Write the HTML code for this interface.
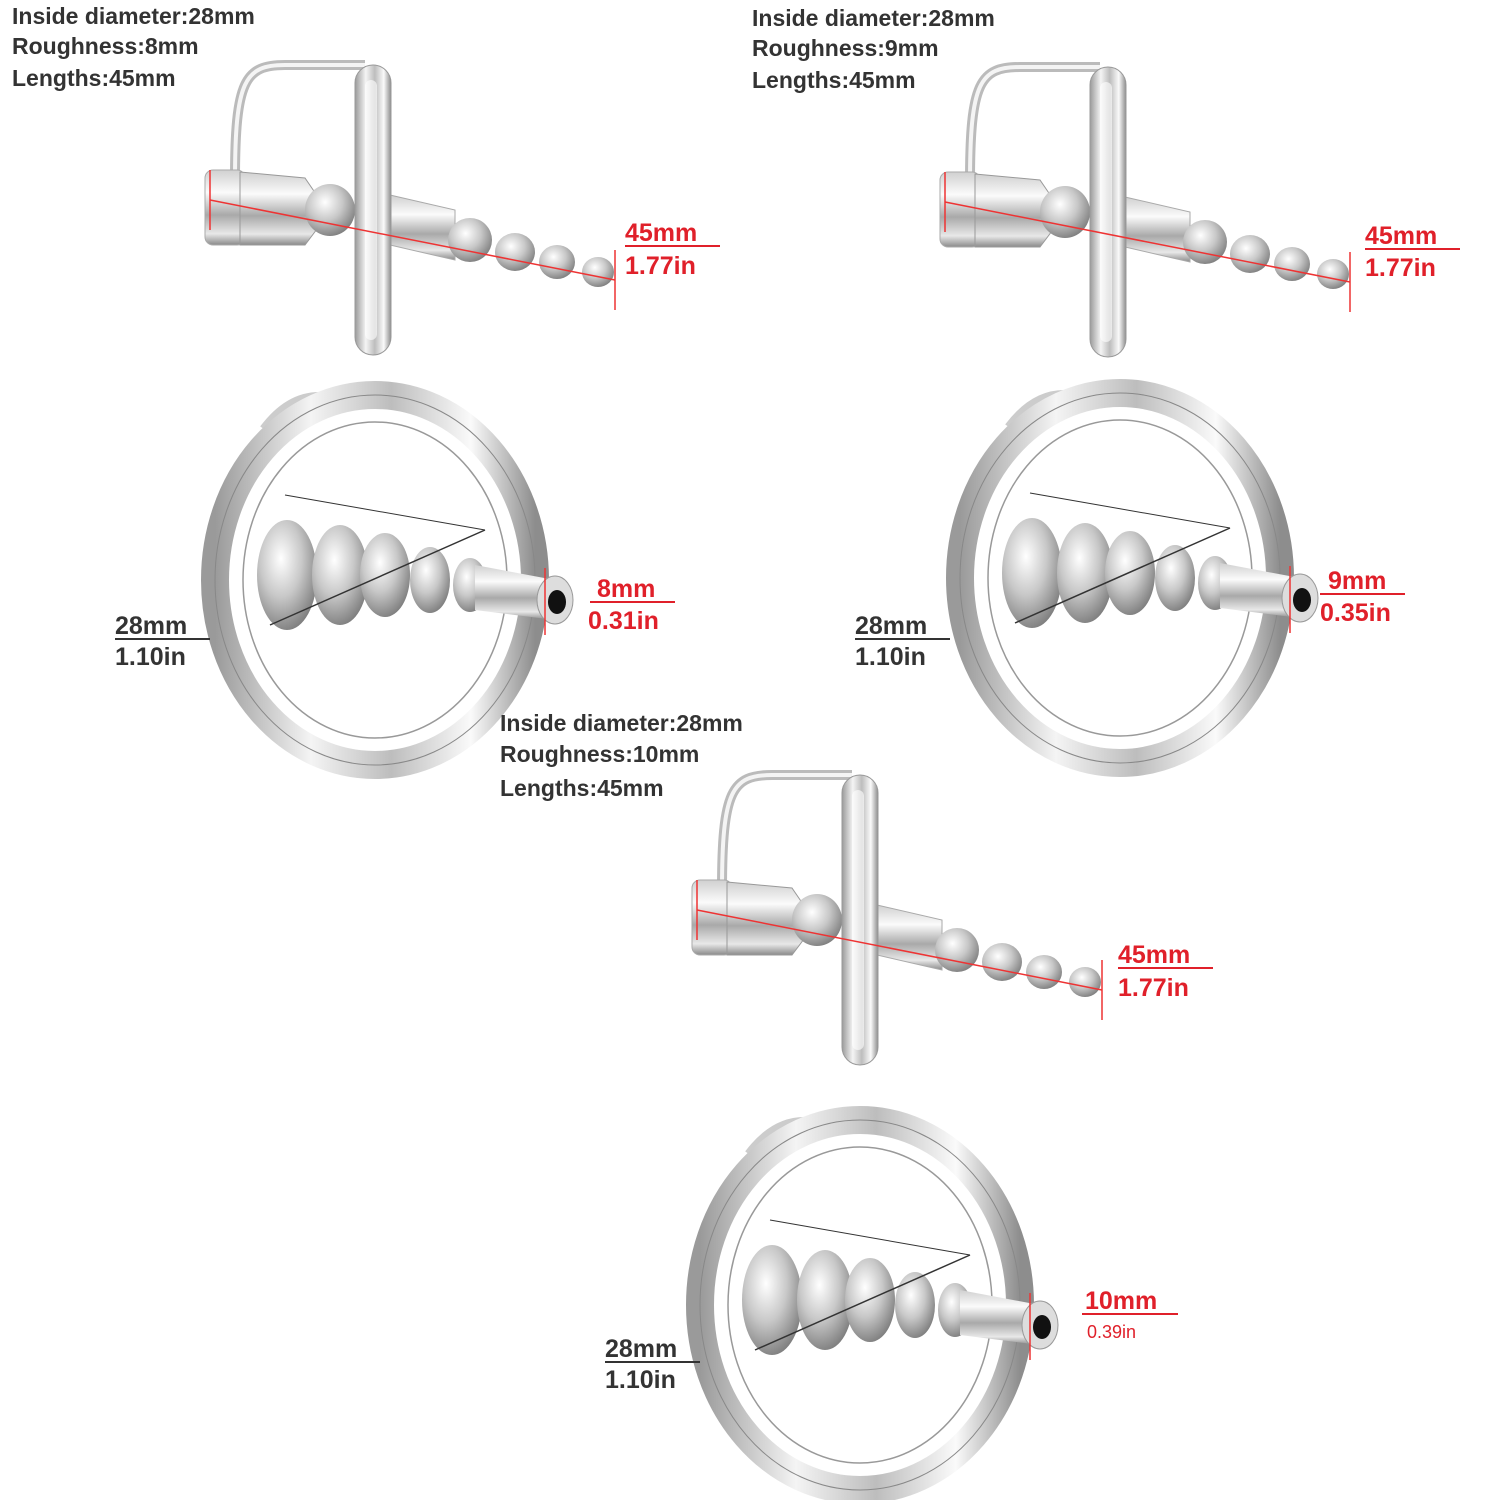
<!DOCTYPE html>
<html><head><meta charset="utf-8"><style>
html,body{margin:0;padding:0;background:#fff;width:1500px;height:1500px;overflow:hidden}
svg text{font-family:"Liberation Sans","DejaVu Sans",sans-serif;font-weight:bold}
</style></head><body>
<svg width="1500" height="1500" viewBox="0 0 1500 1500" xmlns="http://www.w3.org/2000/svg">
<defs>
<linearGradient id="mv" x1="0" y1="0" x2="1" y2="0">
<stop offset="0" stop-color="#9a9a9a"/><stop offset=".3" stop-color="#f4f4f4"/><stop offset=".55" stop-color="#bdbdbd"/><stop offset=".8" stop-color="#fafafa"/><stop offset="1" stop-color="#8d8d8d"/></linearGradient>
<linearGradient id="mh" x1="0" y1="0" x2="0" y2="1">
<stop offset="0" stop-color="#d0d0d0"/><stop offset=".3" stop-color="#fbfbfb"/><stop offset=".6" stop-color="#a9a9a9"/><stop offset=".85" stop-color="#e8e8e8"/><stop offset="1" stop-color="#8a8a8a"/></linearGradient>
<radialGradient id="ball" cx=".4" cy=".35" r=".7"><stop offset="0" stop-color="#fff"/><stop offset=".5" stop-color="#c8c8c8"/><stop offset="1" stop-color="#7a7a7a"/></radialGradient>
<g id="side">
 <path d="M30,120 C30,20 40,5 80,5 L160,5" fill="none" stroke="#bbb" stroke-width="10"/>
 <path d="M30,120 C30,20 40,5 80,5 L160,5" fill="none" stroke="#f4f4f4" stroke-width="4"/>
 <rect x="0" y="110" width="40" height="75" rx="8" fill="url(#mh)" stroke="#aaa"/>
 <path d="M35,112 L100,118 L115,140 L115,165 L100,185 L35,185 Z" fill="url(#mh)" stroke="#999"/>
 <ellipse cx="125" cy="150" rx="25" ry="26" fill="url(#ball)"/>
 <path d="M185,135 L250,150 L250,200 L185,185 Z" fill="url(#mh)" stroke="#aaa"/>
 <ellipse cx="265" cy="180" rx="22" ry="22" fill="url(#ball)"/>
 <ellipse cx="310" cy="192" rx="20" ry="19" fill="url(#ball)"/>
 <ellipse cx="352" cy="202" rx="18" ry="17" fill="url(#ball)"/>
 <ellipse cx="393" cy="212" rx="16" ry="15" fill="url(#ball)"/>
 <rect x="150" y="5" width="36" height="290" rx="18" fill="url(#mv)" stroke="#999"/>
 <rect x="160" y="20" width="12" height="260" rx="6" fill="#fff" opacity=".6"/>
 <line x1="5" y1="140" x2="410" y2="220" stroke="#e33" stroke-width="1.5"/>
 <line x1="5" y1="110" x2="5" y2="170" stroke="#e33" stroke-width="1.5"/>
 <line x1="410" y1="190" x2="410" y2="250" stroke="#e33" stroke-width="1.5"/>
</g>
<g id="front">
 <path d="M-110,-150 Q-80,-190 -40,-180" fill="none" stroke="#ccc" stroke-width="12"/>
 <ellipse cx="0" cy="0" rx="160" ry="185" fill="none" stroke="url(#mv)" stroke-width="28"/>
 <ellipse cx="0" cy="0" rx="160" ry="185" fill="none" stroke="#888" stroke-width="1"/>
 <ellipse cx="0" cy="0" rx="132" ry="158" fill="none" stroke="#999" stroke-width="1.5"/>
 <ellipse cx="-88" cy="-5" rx="30" ry="55" fill="url(#ball)"/>
 <ellipse cx="-35" cy="-5" rx="28" ry="50" fill="url(#ball)"/>
 <ellipse cx="10" cy="-5" rx="25" ry="42" fill="url(#ball)"/>
 <ellipse cx="55" cy="0" rx="20" ry="33" fill="url(#ball)"/>
 <ellipse cx="95" cy="5" rx="17" ry="27" fill="url(#ball)"/>
 <path d="M100,-15 L180,0 L180,40 L100,30Z" fill="url(#mh)"/>
 <ellipse cx="180" cy="20" rx="18" ry="24" fill="#ddd" stroke="#999"/>
 <ellipse cx="182" cy="22" rx="9" ry="12" fill="#111"/>
 <line x1="-105" y1="45" x2="110" y2="-50" stroke="#333" stroke-width="1.5"/>
 <line x1="-90" y1="-85" x2="110" y2="-50" stroke="#333" stroke-width="1"/>
 <line x1="170" y1="-12" x2="170" y2="55" stroke="#e33" stroke-width="1.5"/>
</g>
</defs>

<text x="12" y="24" font-size="23" fill="#333">Inside diameter:28mm</text>
<text x="12" y="54" font-size="23" fill="#333">Roughness:8mm</text>
<text x="12" y="86" font-size="23" fill="#333">Lengths:45mm</text>
<use href="#side" x="205" y="60"/>
<text x="625" y="241" font-size="25" fill="#e0202a">45mm</text>
<line x1="625" y1="246" x2="720" y2="246" stroke="#e0202a" stroke-width="2"/>
<text x="625" y="274" font-size="25" fill="#e0202a">1.77in</text>

<text x="752" y="26" font-size="23" fill="#333">Inside diameter:28mm</text>
<text x="752" y="56" font-size="23" fill="#333">Roughness:9mm</text>
<text x="752" y="88" font-size="23" fill="#333">Lengths:45mm</text>
<use href="#side" x="940" y="62"/>
<text x="1365" y="244" font-size="25" fill="#e0202a">45mm</text>
<line x1="1365" y1="249" x2="1460" y2="249" stroke="#e0202a" stroke-width="2"/>
<text x="1365" y="276" font-size="25" fill="#e0202a">1.77in</text>

<use href="#front" x="375" y="580"/>
<text x="115" y="634" font-size="25" fill="#333">28mm</text>
<line x1="115" y1="639" x2="210" y2="639" stroke="#333" stroke-width="2"/>
<text x="115" y="665" font-size="25" fill="#333">1.10in</text>
<text x="597" y="597" font-size="25" fill="#e0202a">8mm</text>
<line x1="590" y1="602" x2="675" y2="602" stroke="#e0202a" stroke-width="2"/>
<text x="588" y="629" font-size="25" fill="#e0202a">0.31in</text>

<use href="#front" x="1120" y="578"/>
<text x="855" y="634" font-size="25" fill="#333">28mm</text>
<line x1="855" y1="639" x2="950" y2="639" stroke="#333" stroke-width="2"/>
<text x="855" y="665" font-size="25" fill="#333">1.10in</text>
<text x="1328" y="589" font-size="25" fill="#e0202a">9mm</text>
<line x1="1320" y1="594" x2="1405" y2="594" stroke="#e0202a" stroke-width="2"/>
<text x="1320" y="621" font-size="25" fill="#e0202a">0.35in</text>

<text x="500" y="731" font-size="23" fill="#333">Inside diameter:28mm</text>
<text x="500" y="762" font-size="23" fill="#333">Roughness:10mm</text>
<text x="500" y="796" font-size="23" fill="#333">Lengths:45mm</text>
<use href="#side" x="692" y="770"/>
<text x="1118" y="963" font-size="25" fill="#e0202a">45mm</text>
<line x1="1118" y1="968" x2="1213" y2="968" stroke="#e0202a" stroke-width="2"/>
<text x="1118" y="996" font-size="25" fill="#e0202a">1.77in</text>

<use href="#front" x="860" y="1305"/>
<text x="605" y="1357" font-size="25" fill="#333">28mm</text>
<line x1="605" y1="1362" x2="700" y2="1362" stroke="#333" stroke-width="2"/>
<text x="605" y="1388" font-size="25" fill="#333">1.10in</text>
<text x="1085" y="1309" font-size="25" fill="#e0202a">10mm</text>
<line x1="1082" y1="1314" x2="1178" y2="1314" stroke="#e0202a" stroke-width="2"/>
<text x="1087" y="1338" font-size="18" font-weight="normal" fill="#e0202a" style="font-weight:normal">0.39in</text>
</svg>
</body></html>
